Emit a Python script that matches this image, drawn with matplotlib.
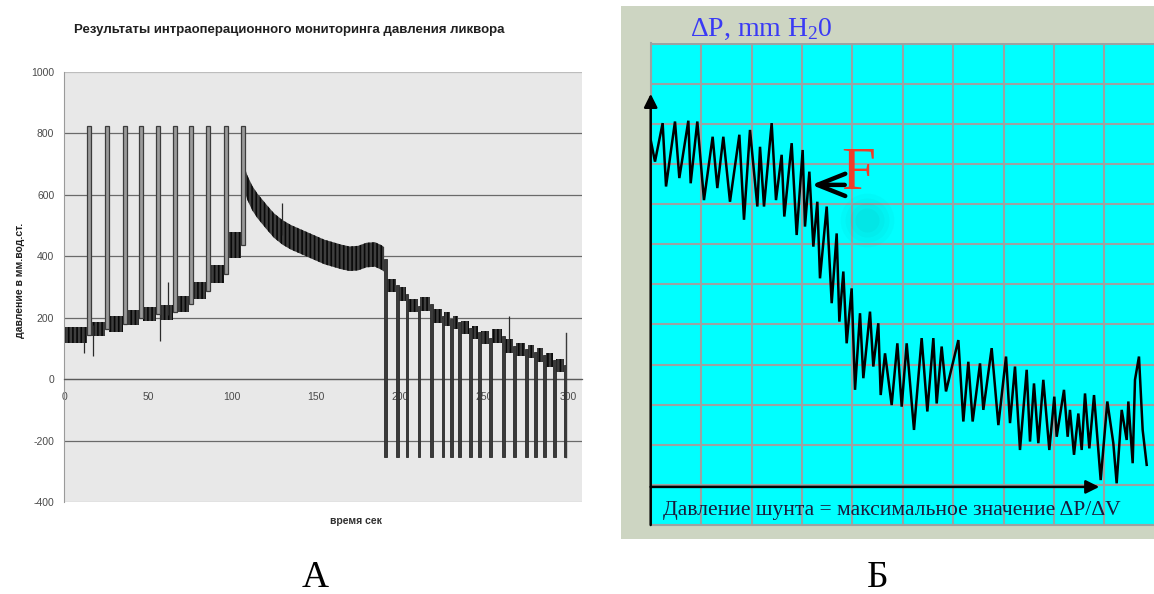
import matplotlib
matplotlib.use("Agg")
import matplotlib.pyplot as plt
from matplotlib.patches import Rectangle

plt.rcParams['font.family'] = ['Liberation Sans', 'DejaVu Sans']
plt.rcParams['mathtext.fontset'] = 'custom'
plt.rcParams['mathtext.rm'] = 'Liberation Serif'
plt.rcParams['mathtext.it'] = 'Liberation Serif:italic'
plt.rcParams['hatch.linewidth'] = 1.2

# ---------------- Panel A data ----------------
yticks_a = [-400, -200, 0, 200, 400, 600, 800, 1000]
xticks_a = [0, 50, 100, 150, 200, 250, 300]

up_pulse_t = [13.5, 24.5, 35.0, 44.6, 54.5, 65.0, 74.5, 84.5, 95.0, 105.5]
up_pulse_w = 2.4
pulse_top = 825
# baseline level before each upward pulse
pre_levels = [145, 163, 180, 200, 212, 218, 245, 288, 343, 436]
pre_halfw = [26, 24, 26, 24, 24, 24, 26, 28, 30, 42]

decay_t = [107.9, 109, 112, 115, 118, 121, 125, 130, 135, 140, 145, 150,
           155, 160, 165, 170, 175, 180, 185, 189, 190.5]
decay_p = [645, 625, 590, 565, 545, 525, 500, 478, 462, 450, 438, 426,
           414, 406, 398, 392, 394, 404, 406, 396, 390]
decay_halfw = 40

down_pulse_t = [190.5, 197.6, 203.4, 210.5, 217.9, 224.8, 229.8, 234.7, 241.1,
                246.6, 253.2, 260.7, 267.4, 274.4, 279.8, 285.3, 291.3, 297.4]
down_pulse_w = 1.5
pulse_bottom = -255
post_levels = [305, 277, 239, 245, 206, 196, 185, 168, 152, 135, 140, 108,
               97, 90, 78, 62, 45]
post_halfw = 22
end_value = 150

# isolated noise spikes (time, low, high)
spike_t = [12.0, 17.5, 57.0, 62.0, 130.0, 265.0]
spike_lo = [85, 75, 125, 210, 470, 100]
spike_hi = [170, 175, 230, 316, 575, 206]

# ---------------- Panel B data (grid units) ----------------
zz_x = [0.0, 0.085, 0.237, 0.304, 0.482, 0.568, 0.747, 0.793, 0.925, 1.057,
        1.229, 1.322, 1.441, 1.573, 1.759, 1.851, 1.970, 2.116, 2.169, 2.248,
        2.400, 2.486, 2.598, 2.651, 2.797, 2.896, 3.015, 3.061, 3.148, 3.227,
        3.306, 3.359, 3.492, 3.591, 3.690, 3.743, 3.822, 3.888, 3.987, 4.054,
        4.153, 4.219, 4.351, 4.417, 4.516, 4.563, 4.649, 4.781, 4.894, 4.980,
        5.079, 5.224, 5.376, 5.489, 5.608, 5.674, 5.773, 5.859, 6.104, 6.203,
        6.302, 6.388, 6.534, 6.600, 6.765, 6.898, 7.050, 7.129, 7.228, 7.327,
        7.460, 7.526, 7.605, 7.691, 7.790, 7.909, 8.008, 8.055, 8.200, 8.273,
        8.319, 8.399, 8.485, 8.551, 8.617, 8.703, 8.796, 8.928, 9.060, 9.179,
        9.245, 9.345, 9.444, 9.477, 9.563, 9.609, 9.688, 9.761, 9.841]
zz_y = [9.6, 9.06, 10.02, 8.44, 10.06, 8.65, 10.08, 8.52, 10.06, 8.10,
        9.68, 8.40, 9.68, 8.06, 9.73, 7.61, 9.85, 7.94, 9.43, 7.94,
        10.02, 8.10, 9.23, 7.69, 9.52, 7.23, 9.35, 7.44, 8.81, 6.94,
        8.06, 6.15, 7.94, 5.53, 7.27, 5.07, 6.32, 4.53, 5.90, 3.37,
        5.28, 3.66, 5.32, 3.95, 5.03, 3.24, 4.28, 2.99, 4.53, 2.95,
        4.53, 2.37, 4.66, 2.83, 4.66, 3.03, 4.45, 3.33, 4.61, 2.58,
        4.07, 2.58, 4.03, 2.87, 4.41, 2.49, 4.20, 2.54, 3.95, 1.87,
        3.87, 2.08, 3.53, 2.04, 3.62, 1.87, 3.20, 2.20, 3.37, 2.20,
        2.87, 1.75, 2.78, 1.87, 3.28, 1.91, 3.24, 1.12, 3.08, 2.04,
        1.04, 2.87, 2.12, 3.08, 1.54, 3.62, 4.20, 2.37, 1.50]

W, H = 1154, 594
fig = plt.figure(figsize=(W / 100, H / 100), dpi=100)
fig.patch.set_facecolor('white')

# ================= Panel A =================
axA = fig.add_axes([64 / W, 1 - 502 / H, 518 / W, 430 / H])
axA.set_facecolor('#e8e8e8')
axA.set_xlim(0, 308.3)
axA.set_ylim(-400, 1000)
axA.set_yticks(yticks_a)
axA.set_yticklabels([str(v) for v in yticks_a])
axA.set_xticks(xticks_a)
axA.set_xticklabels([str(v) for v in xticks_a])
axA.yaxis.grid(True, color='#6a6a6a', lw=0.9)
gl = axA.yaxis.get_gridlines()
gl[0].set_color('#bdbdbd')
gl[-1].set_color('#bdbdbd')
axA.set_axisbelow(True)
for s in ['right', 'top']:
    axA.spines[s].set_visible(False)
axA.spines['left'].set_color('#9a9a9a')
axA.spines['bottom'].set_position(('data', 0))
axA.spines['bottom'].set_color('#5a5a5a')
axA.spines['bottom'].set_linewidth(0.9)
axA.tick_params(axis='y', length=0, pad=7, labelsize=7.5, labelcolor='#4a4a4a')
axA.tick_params(axis='x', length=0, pad=9, labelsize=7.5, labelcolor='#4a4a4a')

band_kw = dict(facecolor='#3e3e3e', edgecolor='#080808', hatch='||||',
               lw=0.0)


def band(ax, xs, lo, hi):
    ax.fill_between(xs, lo, hi, **band_kw)


seg_start = [0.0] + [t + up_pulse_w for t in up_pulse_t[:-1]]
for a, b, lv, hw in zip(seg_start, up_pulse_t, pre_levels, pre_halfw):
    band(axA, [a, b], [lv - hw, lv - hw], [lv + hw, lv + hw])
axA.bar(up_pulse_t, [pulse_top - lv for lv in pre_levels], width=up_pulse_w,
        bottom=pre_levels, align='edge', facecolor='#9a9a9a',
        edgecolor='#3c3c3c', linewidth=0.9, zorder=3)
band(axA, decay_t, [p - decay_halfw for p in decay_p],
     [p + decay_halfw for p in decay_p])
post_start = [t + down_pulse_w for t in down_pulse_t[:-1]]
post_end = down_pulse_t[1:]
for a, b, lv in zip(post_start, post_end, post_levels):
    band(axA, [a, b], [lv - post_halfw] * 2, [lv + post_halfw] * 2)
down_tops = [decay_p[-1]] + post_levels
axA.bar(down_pulse_t, [top - pulse_bottom for top in down_tops],
        width=down_pulse_w, bottom=pulse_bottom, align='edge',
        facecolor='#3a3a3a', edgecolor='#2a2a2a', linewidth=0.6, zorder=3)
axA.plot([down_pulse_t[-1] + down_pulse_w, down_pulse_t[-1] + down_pulse_w],
         [pulse_bottom, end_value], color='#3a3a3a', lw=1.0, zorder=3)
axA.vlines(spike_t, spike_lo, spike_hi, color='#2a2a2a', lw=0.9)

fig.text(289 / W, 1 - 30 / H,
         'Результаты интраоперационного мониторинга давления ликвора',
         ha='center', va='center', fontsize=9.5, fontweight='bold',
         color='#202020')
fig.text(20 / W, 1 - 280 / H, 'давление в мм.вод.ст.', rotation=90,
         ha='center', va='center', fontsize=7.5, fontweight='bold',
         color='#202020')
fig.text(356 / W, 1 - 521 / H, 'время сек', ha='center', va='center',
         fontsize=7.5, fontweight='bold', color='#303030')
fig.text(315 / W, 1 - 578 / H, 'А', ha='center', va='center',
         fontsize=27, family='Liberation Serif', color='black')

# ================= Panel B =================
fig.patches.append(Rectangle((621 / W, 1 - 539 / H), (W - 621) / W, 533 / H,
                             transform=fig.transFigure, facecolor='#cdd5c2',
                             edgecolor='none', zorder=-10))
axB = fig.add_axes([650.7 / W, 1 - 525 / H, (W - 650.7) / W, 481.7 / H])
axB.set_zorder(2)
axB.set_facecolor('#00ffff')
axB.set_xlim(0, 9.986)
axB.set_ylim(0, 12.01)
axB.set_xticks(range(0, 10))
axB.set_yticks(range(0, 13))
axB.grid(True, color='#9aa3a3', lw=1.5)
axB.set_axisbelow(True)
axB.tick_params(length=0, labelbottom=False, labelleft=False)
for s in ['right', 'top']:
    axB.spines[s].set_visible(False)
axB.spines['left'].set_color('#9aa3a3')
axB.spines['left'].set_linewidth(1.5)
axB.spines['bottom'].set_color('#9aa3a3')
axB.spines['bottom'].set_linewidth(1.5)

# soft dark smudge of the original screenshot
for r, a in [(1500, 0.03), (1000, 0.035), (600, 0.04), (300, 0.045)]:
    axB.scatter([4.3], [7.6], s=r, color='#1e5a5a', alpha=a, lw=0, zorder=1)

axB.plot(zz_x, zz_y, color='black', lw=1.8, solid_joinstyle='miter', zorder=4)

axB.annotate('', xy=(0.0, 10.75), xytext=(0.0, 0.0),
             arrowprops=dict(arrowstyle='-|>', lw=1.8, color='black',
                             mutation_scale=20, shrinkA=0, shrinkB=0),
             annotation_clip=False, zorder=5)
axB.annotate('', xy=(8.9, 0.95), xytext=(0.0, 0.95),
             arrowprops=dict(arrowstyle='-|>', lw=1.8, color='black',
                             mutation_scale=20, shrinkA=0, shrinkB=0),
             annotation_clip=False, zorder=5)
axB.annotate('', xy=(3.19, 8.48), xytext=(3.85, 8.48),
             arrowprops=dict(arrowstyle='->, head_length=1.0, head_width=0.4',
                             lw=3.2, color='black', mutation_scale=20,
                             shrinkA=0, shrinkB=0), zorder=5)
axB.text(3.78, 8.75, 'F', ha='left', va='center', fontsize=44,
         family='Liberation Serif', color='#f03c28', zorder=6)
axB.text(0.78, 12.2, 'ΔP, mm H$_2$0', ha='left', va='baseline', fontsize=20,
         family='Liberation Serif', color='#3a3af5', clip_on=False)
axB.text(0.24, 0.35, 'Давление шунта = максимальное значение ΔP/ΔV',
         ha='left', va='center', fontsize=15.5, family='Liberation Serif',
         color='#1a1a3a')
fig.text(878 / W, 1 - 578 / H, 'Б', ha='center', va='center', fontsize=27,
         family='Liberation Serif', color='black')

fig.savefig('out.png', dpi=100, facecolor='white')
